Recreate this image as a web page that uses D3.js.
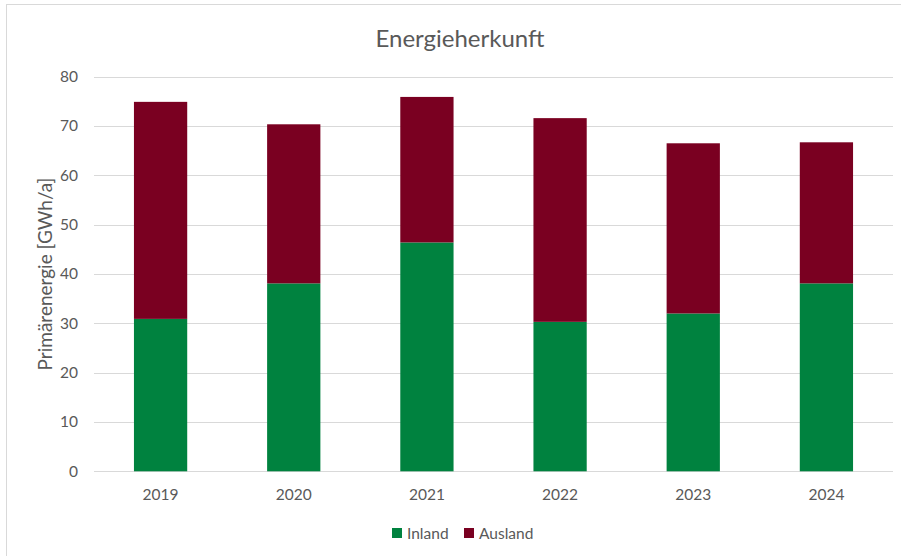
<!DOCTYPE html>
<html><head><meta charset="utf-8">
<script src="https://cdn.jsdelivr.net/npm/d3@7"></script>
<style>body{margin:0;background:#fff}svg{display:block}text{font-family:Lato,"Open Sans",sans-serif;fill:#595959}</style>
</head><body>
<svg id="c" width="901" height="556"></svg>
<script>
const categories = ["2019","2020","2021","2022","2023","2024"];
const inland  = [30.9, 38.1, 46.4, 30.3, 32.0, 38.1];
const ausland = [44.0, 32.25, 29.5, 41.3, 34.5, 28.6];
const seriesNames = ["Inland","Ausland"];
const seriesColors = ["#00823F","#7A0021"];
const yTicks = [0,10,20,30,40,50,60,70,80];
const titleText = "Energieherkunft";
const yTitle = "Primärenergie [GWh/a]";

const svg = d3.select("#c");
svg.append("rect").attr("x",6.5).attr("y",4.5).attr("width",905).attr("height",560)
  .attr("fill","#fff").attr("stroke","#d9d9d9").attr("stroke-width",1);

const m = {l:94, r:893, t:76.7, b:471.3};
const x = d3.scaleBand().domain(categories).range([m.l,m.r]).paddingInner(0.6).paddingOuter(0.3);
const y = d3.scaleLinear().domain([0,80]).range([m.b,m.t]);

// gridlines
svg.append("g").selectAll("line").data(yTicks).join("line")
  .attr("x1",m.l).attr("x2",m.r).attr("y1",d=>Math.round(y(d))+0.5).attr("y2",d=>Math.round(y(d))+0.5)
  .attr("stroke","#d9d9d9").attr("stroke-width",1);

const rows = categories.map((c,i)=>({cat:c, Inland:inland[i], Ausland:ausland[i]}));
const stack = d3.stack().keys(seriesNames)(rows);
svg.append("g").selectAll("g").data(stack).join("g")
  .attr("fill",(d,i)=>seriesColors[i])
  .selectAll("rect").data(d=>d).join("rect")
  .attr("x",d=>x(d.data.cat)).attr("width",x.bandwidth())
  .attr("y",d=>y(d[1])).attr("height",d=>y(d[0])-y(d[1]));

// y axis
const yAxis = d3.axisLeft(y).tickValues(yTicks).tickSize(0).tickPadding(16);
const gy = svg.append("g").attr("transform",`translate(${m.l},0)`).call(yAxis);
gy.select(".domain").remove();
gy.selectAll("text").attr("font-size","15.5px").style("font-family","Lato,sans-serif").attr("fill","#595959");

// x axis
const xAxis = d3.axisBottom(x).tickSize(0).tickPadding(18);
const gx = svg.append("g").attr("transform",`translate(0,${m.b})`).call(xAxis);
gx.select(".domain").remove();
gx.selectAll("text").attr("font-size","15.5px").style("font-family","Lato,sans-serif").attr("fill","#595959");

// title
svg.append("text").attr("x",460).attr("y",47).attr("text-anchor","middle")
  .attr("font-size","24px").text(titleText);

// y title
svg.append("text").attr("transform",`translate(52,${(m.t+m.b)/2}) rotate(-90)`)
  .attr("text-anchor","middle").attr("font-size","19px").text(yTitle);

// legend
const leg = svg.append("g");
const legX = [392, 464];
seriesNames.forEach((n,i)=>{
  leg.append("rect").attr("x",legX[i]).attr("y",528).attr("width",10).attr("height",10).attr("fill",seriesColors[i]);
  leg.append("text").attr("x",legX[i]+15).attr("y",538.5).attr("font-size","15.5px").text(n);
});
</script>
</body></html>
